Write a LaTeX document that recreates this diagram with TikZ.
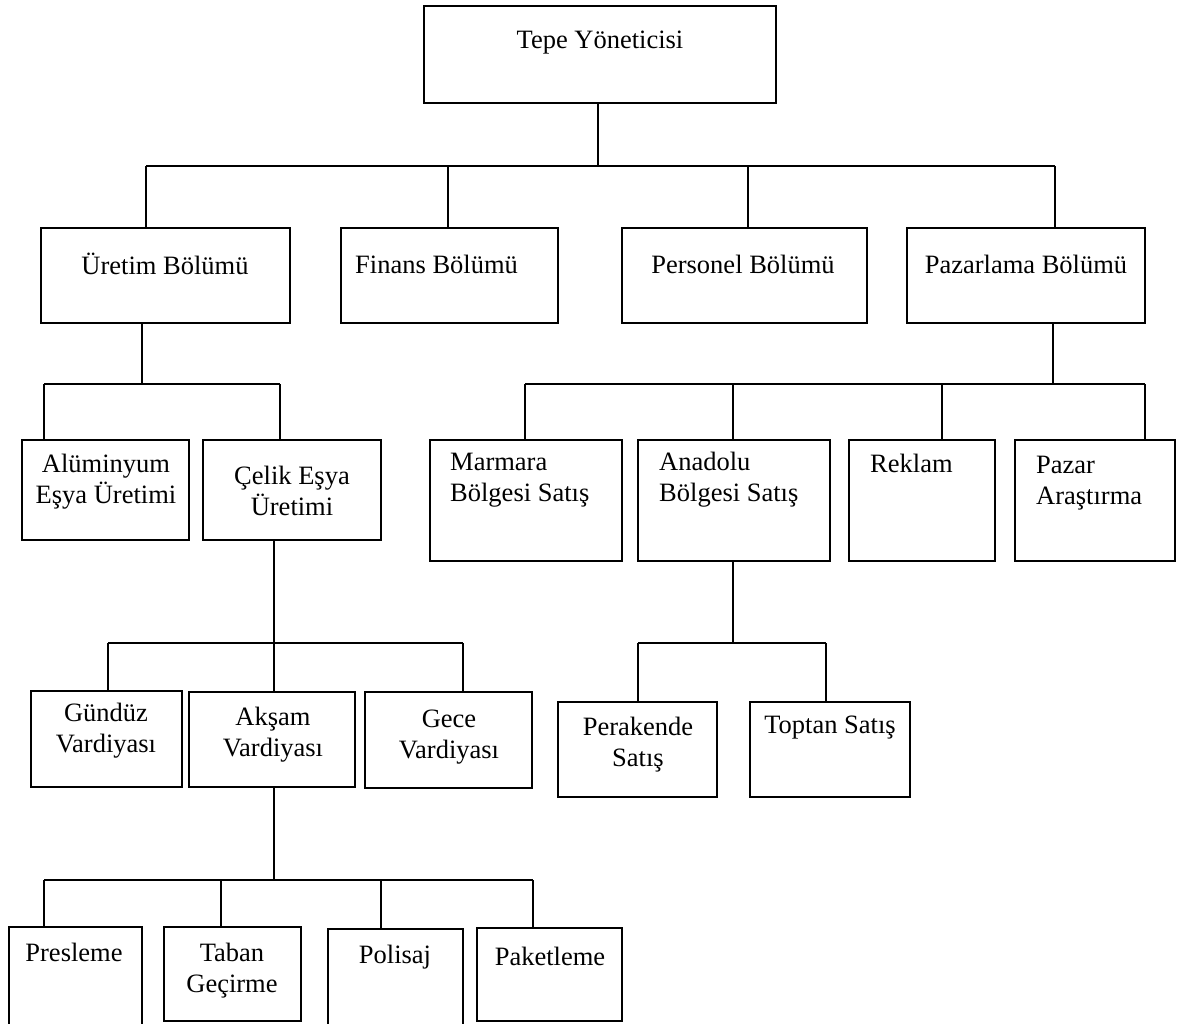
\documentclass[tikz,border=0pt]{standalone}
\usepackage{fontspec}
\setmainfont{Liberation Serif}
\begin{document}
\begin{tikzpicture}[x=1pt,y=-1pt,
  box/.style={draw=black, line width=1.8pt, inner sep=0pt, fill=none},
  conn/.style={draw=black, line width=1.7pt},
  lbl/.style={inner sep=0pt, font=\fontsize{26.5}{31}\selectfont},
  lblc/.style={lbl, align=center},
  lbll/.style={lbl, align=left, anchor=west}]
\useasboundingbox[fill=white] (0,0) rectangle (1180,1023);
\newcommand\orgbox[5]{\node[box, minimum width={(#4-#2)*1pt}, minimum height={(#5-#3)*1pt}] (#1) at ({(#2+#4)/2},{(#3+#5)/2}) {};}
% boxes
\orgbox{top}{424}{6}{776}{103}
\orgbox{uretim}{41}{228}{290}{323}
\orgbox{finans}{341}{228}{558}{323}
\orgbox{personel}{622}{228}{867}{323}
\orgbox{pazarlama}{907}{228}{1145}{323}
\orgbox{alum}{22}{440}{189}{540}
\orgbox{celik}{203}{440}{381}{540}
\orgbox{marmara}{430}{440}{622}{561}
\orgbox{anadolu}{638}{440}{830}{561}
\orgbox{reklam}{849}{440}{995}{561}
\orgbox{pazar}{1015}{440}{1175}{561}
\orgbox{gunduz}{31}{691}{182}{787}
\orgbox{aksam}{189}{692}{355}{787}
\orgbox{gece}{365}{692}{532}{788}
\orgbox{perakende}{558}{702}{717}{797}
\orgbox{toptan}{750}{702}{910}{797}
\orgbox{presleme}{9}{927}{142}{1030}
\orgbox{taban}{164}{927}{301}{1021}
\orgbox{polisaj}{328}{929}{463}{1030}
\orgbox{paketleme}{477}{928}{622}{1021}
% labels
\node[lblc] (tTop) at (600,43) {Tepe Yöneticisi};
\node[lblc] (tUretim) at (165,264) {Üretim Bölümü};
\node[lbll] (tFinans) at (355,264) {Finans Bölümü};
\node[lblc] (tPersonel) at (743,264) {Personel Bölümü};
\node[lblc] (tPazarlama) at (1026,264) {Pazarlama Bölümü};
\node[lblc] (tAlum) at (106,482) {Alüminyum\\Eşya Üretimi};
\node[lblc] (tCelik) at (292,491) {Çelik Eşya\\Üretimi};
\node[lbll] (tMarmara) at (450,480) {Marmara\\Bölgesi Satış};
\node[lbll] (tAnadolu) at (659,480) {Anadolu\\Bölgesi Satış};
\node[lbll] (tReklam) at (870,463) {Reklam};
\node[lbll] (tPazar) at (1036,483) {Pazar\\Araştırma};
\node[lblc] (tGunduz) at (106,731) {Gündüz\\Vardiyası};
\node[lblc] (tAksam) at (273,735) {Akşam\\Vardiyası};
\node[lblc] (tGece) at (449,737) {Gece\\Vardiyası};
\node[lblc] (tPerakende) at (638,745) {Perakende\\Satış};
\node[lblc] (tToptan) at (830,728) {Toptan Satış};
\node[lblc] (tPresleme) at (74,952) {Presleme};
\node[lblc] (tTaban) at (232,971) {Taban\\Geçirme};
\node[lblc] (tPolisaj) at (395,957) {Polisaj};
\node[lblc] (tPaketleme) at (550,956) {Paketleme};
% level 1
\coordinate (b1) at (598,166);
\coordinate (b1L) at (146,166);
\coordinate (b1a) at (448,166);
\coordinate (b1b) at (748,166);
\coordinate (b1R) at (1055,166);
\draw[conn] (top.south -| b1) -- (b1);
\draw[conn] (b1L) -- (b1R);
\draw[conn] (b1L) -- (b1L |- uretim.north);
\draw[conn] (b1a) -- (b1a |- finans.north);
\draw[conn] (b1b) -- (b1b |- personel.north);
\draw[conn] (b1R) -- (b1R |- pazarlama.north);
% uretim children
\coordinate (b2) at (142,384);
\coordinate (b2L) at (44,384);
\coordinate (b2R) at (280,384);
\draw[conn] (uretim.south -| b2) -- (b2);
\draw[conn] (b2L) -- (b2R);
\draw[conn] (b2L) -- (b2L |- alum.north);
\draw[conn] (b2R) -- (b2R |- celik.north);
% pazarlama children
\coordinate (b3) at (1053,384);
\coordinate (b3L) at (525,384);
\coordinate (b3a) at (733,384);
\coordinate (b3b) at (942,384);
\coordinate (b3R) at (1145,384);
\draw[conn] (pazarlama.south -| b3) -- (b3);
\draw[conn] (b3L) -- (b3R);
\draw[conn] (b3L) -- (b3L |- marmara.north);
\draw[conn] (b3a) -- (b3a |- anadolu.north);
\draw[conn] (b3b) -- (b3b |- reklam.north);
\draw[conn] (b3R) -- (b3R |- pazar.north);
% celik children
\coordinate (b4) at (274,643);
\coordinate (b4L) at (108,643);
\coordinate (b4R) at (463,643);
\draw[conn] (celik.south -| b4) -- (b4);
\draw[conn] (b4L) -- (b4R);
\draw[conn] (b4L) -- (b4L |- gunduz.north);
\draw[conn] (b4) -- (b4 |- aksam.north);
\draw[conn] (b4R) -- (b4R |- gece.north);
% anadolu children
\coordinate (b5) at (733,643);
\coordinate (b5L) at (638,643);
\coordinate (b5R) at (826,643);
\draw[conn] (anadolu.south -| b5) -- (b5);
\draw[conn] (b5L) -- (b5R);
\draw[conn] (b5L) -- (b5L |- perakende.north);
\draw[conn] (b5R) -- (b5R |- toptan.north);
% aksam children
\coordinate (b6) at (274,880);
\coordinate (b6L) at (44,880);
\coordinate (b6a) at (221,880);
\coordinate (b6b) at (381,880);
\coordinate (b6R) at (533,880);
\draw[conn] (aksam.south -| b6) -- (b6);
\draw[conn] (b6L) -- (b6R);
\draw[conn] (b6L) -- (b6L |- presleme.north);
\draw[conn] (b6a) -- (b6a |- taban.north);
\draw[conn] (b6b) -- (b6b |- polisaj.north);
\draw[conn] (b6R) -- (b6R |- paketleme.north);
\end{tikzpicture}
\end{document}
